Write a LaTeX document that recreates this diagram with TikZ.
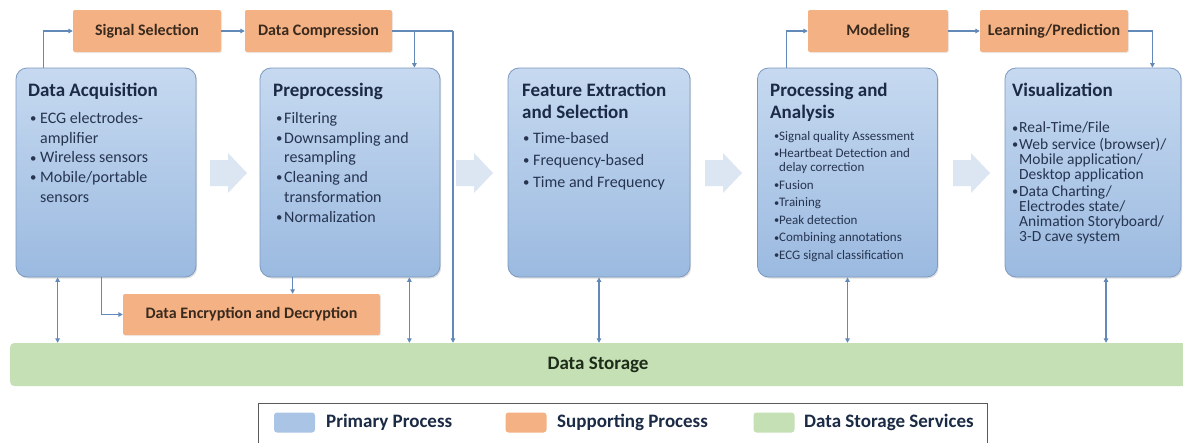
\documentclass[tikz,border=0pt]{standalone}
\usepackage{fontspec}
\usepackage{graphicx}
\setmainfont{Carlito}
\usetikzlibrary{arrows.meta,shadows,calc}
\definecolor{pbtop}{HTML}{C6D9F0}
\definecolor{pbbot}{HTML}{9BBAE0}
\definecolor{pbord}{HTML}{7E9AC0}
\definecolor{orng}{HTML}{F4B183}
\definecolor{grn}{HTML}{C5E0B4}
\definecolor{lnk}{HTML}{6389B8}
\definecolor{pale}{HTML}{DCE6F2}
\definecolor{ttlc}{HTML}{1B2A45}
\definecolor{bltc}{HTML}{26344F}
\definecolor{otxt}{HTML}{3A2A1E}
\definecolor{gtxt}{HTML}{1E2C1A}
\definecolor{legb}{HTML}{5A5A5A}
\newcommand{\mybul}[1]{\makebox[#1][l]{\raisebox{0.6pt}{\scalebox{0.8}{\textbullet}}}}
\newcommand{\mycont}[1]{\hspace*{#1}}
\begin{document}
\begin{tikzpicture}[x=1pt,y=-1pt,
  prim/.style={rectangle, rounded corners=11pt, draw=pbord, line width=0.8pt,
    top color=pbtop, bottom color=pbbot, minimum width=180pt, minimum height=209pt,
    inner sep=0pt, drop shadow={shadow xshift=1.2pt,shadow yshift=-1.5pt,opacity=0.25}},
  supp/.style={rectangle, fill=orng, rounded corners=2pt, minimum height=42pt,
    inner sep=0pt, font=\fontsize{16}{19}\selectfont\bfseries, text=otxt,
    drop shadow={shadow xshift=1pt,shadow yshift=-1pt,opacity=0.15}},
  ttl/.style={anchor=north west, inner sep=0pt, align=left, text=ttlc,
    font=\fontsize{19}{22}\selectfont\bfseries},
  blt/.style={anchor=north west, inner sep=0pt, align=left, text=bltc,
    font=\fontsize{16}{19.75}\selectfont},
  conn/.style={draw=lnk, line width=1.4pt},
  tip/.style={-{Triangle[length=4.5pt,width=4.5pt]}},
  tips/.style={{Triangle[length=4.5pt,width=4.5pt]}-{Triangle[length=4.5pt,width=4.5pt]}},
  legtxt/.style={anchor=west, inner sep=0pt, font=\fontsize{19}{22}\selectfont\bfseries, text=ttlc},
  swatch/.style={rectangle, rounded corners=3pt, minimum width=41pt, minimum height=20pt, inner sep=0pt}
]
\useasboundingbox (0,0) rectangle (1183,442);
\clip (0,0) rectangle (1183,442);
\fill[white] (0,0) rectangle (1183,442);

% pale flow arrows
\foreach \x in {210,456,705,953}{
  \fill[pale] (\x,160) -- (\x+18,160) -- (\x+18,153) -- (\x+37,173) -- (\x+18,193) -- (\x+18,186) -- (\x,186) -- cycle;
}

% storage bar
\node[rectangle, fill=grn, rounded corners=4pt, minimum width=1190pt, minimum height=43pt, inner sep=0pt,
  anchor=west] (storage) at (10,364.5) {};
\node[font=\fontsize{19}{22}\selectfont\bfseries, text=gtxt, inner sep=0pt] (storaget) at (598,364.5) {Data Storage};

% primary boxes
\node[prim] (da) at (106,172.5) {};
\node[prim] (pre) at (350,172.5) {};
\node[prim, minimum width=182pt] (fe) at (599,172.5) {};
\node[prim] (pa) at (847.5,172.5) {};
\node[prim, minimum width=176pt] (vis) at (1093,172.5) {};

% supporting boxes
\node[supp, minimum width=148pt] (ss) at (147,31) {Signal Selection};
\node[supp, minimum width=147pt] (dc) at (318.5,31) {Data Compression};
\node[supp, minimum width=140pt] (mod) at (878,31) {Modeling};
\node[supp, minimum width=148pt] (lp) at (1054,31) {Learning/Prediction};
\node[supp, minimum width=257pt, minimum height=41pt] (enc) at (251.5,314.5) {Data Encryption and Decryption};

% texts in primary boxes
\node[ttl] (dat) at (28,83) {Data Acquisition};
\node[blt] (dab) at (30,112) {\mybul{10pt}ECG electrodes-\\\mycont{10pt}amplifier\\\mybul{10pt}Wireless sensors\\\mybul{10pt}Mobile/portable\\\mycont{10pt}sensors};

\node[ttl] (pret) at (273,83) {Preprocessing};
\node[blt] (preb) at (276,112) {\mybul{8pt}Filtering\\\mybul{8pt}Downsampling and\\\mycont{8pt}resampling\\\mybul{8pt}Cleaning and\\\mycont{8pt}transformation\\\mybul{8pt}Normalization};

\node[ttl] (fet) at (522,83) {Feature Extraction\\and Selection};
\node[blt, font=\fontsize{16}{22}\selectfont] (feb) at (523,132) {\mybul{10pt}Time-based\\\mybul{10pt}Frequency-based\\\mybul{10pt}Time and Frequency};

\node[ttl] (pat) at (770,83) {Processing and\\Analysis};
\node[blt, font=\fontsize{13}{14}\selectfont] (pab) at (774,131) {\mybul{5pt}Signal quality Assessment\\[3.5pt]\mybul{5pt}Heartbeat Detection and\\\mycont{5pt}delay correction\\[3.5pt]\mybul{5pt}Fusion\\[3.5pt]\mybul{5pt}Training\\[3.5pt]\mybul{5pt}Peak detection\\[3.5pt]\mybul{5pt}Combining annotations\\[3.5pt]\mybul{5pt}ECG signal classification};

\node[ttl] (vist) at (1012,83) {Visualization};
\node[blt, font=\fontsize{15.5}{15}\selectfont] (visb) at (1012,122) {\mybul{7pt}Real-Time/File\\[1.5pt]\mybul{7pt}Web service (browser)/\\\mycont{7pt}Mobile application/\\\mycont{7pt}Desktop application\\[2pt]\mybul{7pt}Data Charting/\\\mycont{7pt}Electrodes state/\\\mycont{7pt}Animation Storyboard/\\\mycont{7pt}3-D cave system};

% helper coordinates
\coordinate (daup) at ([xshift=28pt]da.north west);
\coordinate (bus) at (453,31);
\coordinate (prein) at ([xshift=-26pt]pre.north east);
\coordinate (paup) at ([xshift=29.5pt]pa.north west);
\coordinate (visin) at ([xshift=-29pt]vis.north east);
\coordinate (dast) at ([xshift=42pt]da.south west);
\coordinate (daenc) at ([xshift=86pt]da.south west);
\coordinate (preenc) at ([xshift=33pt]pre.south west);
\coordinate (prest) at ([xshift=-31pt]pre.south east);
\coordinate (visst) at ([xshift=13pt]vis.south);

% connectors top
\draw[conn,tip] (daup) |- (ss.west);
\draw[conn,tip] (ss.east) -- (dc.west);
\draw[conn] (dc.east) -- (bus);
\draw[conn,tip] (bus) -- (bus |- storage.north);
\draw[conn,tip] (prein |- dc.east) -- (prein);
\draw[conn,tip] (paup) |- (mod.west);
\draw[conn,tip] (mod.east) -- (lp.west);
\draw[conn,tip] (lp.east) -| (visin);

% connectors bottom
\draw[conn,tips] (dast) -- (dast |- storage.north);
\draw[conn,tip] (daenc) |- (enc.west);
\draw[conn,tip] (preenc) -- (preenc |- enc.north);
\draw[conn,tips] (prest) -- (prest |- storage.north);
\draw[conn,tips] (fe.south) -- (fe.south |- storage.north);
\draw[conn,tips] (pa.south) -- (pa.south |- storage.north);
\draw[conn,tips] (visst) -- (visst |- storage.north);

% legend
\node[rectangle, draw=legb, line width=1pt, minimum width=729pt, minimum height=50pt, inner sep=0pt, anchor=north west] (legend) at (257.5,403) {};
\node[swatch, fill=pbbot!85!white] (swp) at (294.5,422.5) {};
\node[legtxt] (lgp) at (326,422.5) {Primary Process};
\node[swatch, fill=orng] (sws) at (526,422.5) {};
\node[legtxt] (lgs) at (557,422.5) {Supporting Process};
\node[swatch, fill=grn] (swg) at (774,422.5) {};
\node[legtxt] (lgg) at (804,422.5) {Data Storage Services};
\end{tikzpicture}
\end{document}
